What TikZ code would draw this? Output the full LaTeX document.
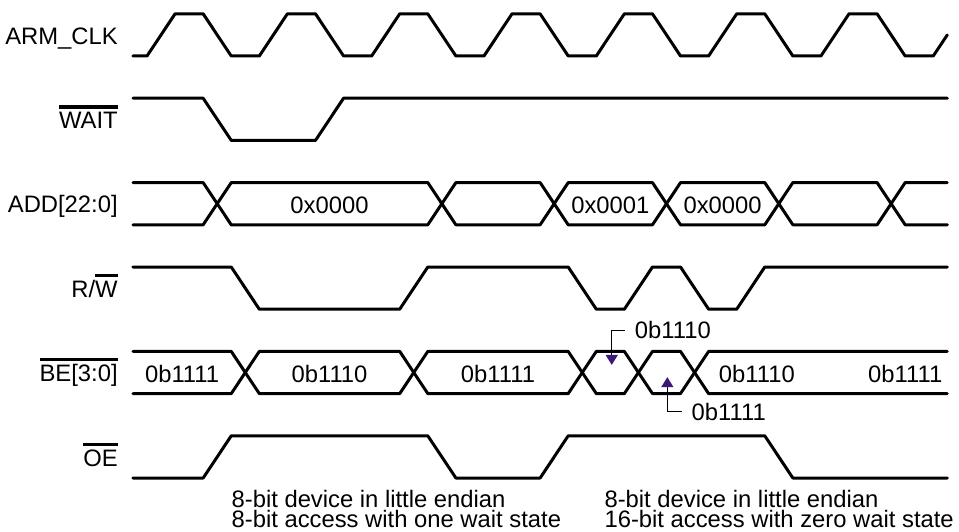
\documentclass[tikz,border=0pt]{standalone}
\usepackage{fontspec}
\setmainfont{Liberation Sans}
\usetikzlibrary{arrows.meta}
\definecolor{tipviolet}{RGB}{60,25,120}
\newsavebox{\ovlbox}
\newcommand{\ovl}[1]{%
  \sbox\ovlbox{#1}%
  \rlap{\rule[\dimexpr\ht\ovlbox+1.8pt\relax]{\wd\ovlbox}{1.6pt}}%
  \usebox\ovlbox}
\newcommand{\wavefont}{\fontsize{11.9}{14}\selectfont}
\tikzset{
  wave/.style={
    line width=1.5pt,
    line cap=round,
    line join=round
  },
  signame/.style={anchor=base east, inner sep=0pt, font=\wavefont},
  busval/.style={anchor=base, inner sep=0pt, font=\wavefont},
  callout/.style={
    line width=0.65pt,
    -{Triangle[width=6pt,length=5pt,color=tipviolet]}
  },
  calloutlabel/.style={anchor=west, inner sep=0pt, outer xsep=5pt, font=\wavefont},
  note/.style={anchor=base west, inner sep=0pt, font=\wavefont}
}
% one bus value between two crossings, #1 = lower level
\newcommand{\busseg}[3]{%
  \draw[wave] (#2-0.5,#1+0.5) -- (#2,#1+1) -- (#3,#1+1) -- (#3+0.5,#1+0.5)
    -- (#3,#1) -- (#2,#1) -- cycle;
}

\begin{document}
\begin{tikzpicture}[x=14.04pt, y=21.1pt]
  \useasboundingbox (-5.235,-1.256) rectangle (28.917,11.327);

  % signal names
  \node[signame] (lbl-clk) at (-1.03,10.28) {ARM\_CLK};
  \node[signame] (lbl-wait) at (-1.03,8.28) {\ovl{WAIT}};
  \node[signame] (lbl-add) at (-1.03,6.28) {ADD[22:0]};
  \node[signame] (lbl-rw) at (-1.03,4.28) {R/\ovl{W}};
  \node[signame] (lbl-be) at (-1.03,2.28) {\ovl{BE[3:0]}};
  \node[signame] (lbl-oe) at (-1.03,0.28) {\ovl{OE}};

  % clock
  \draw[wave] (-0.5,10) -- (0,10)
    \foreach \i in {0,...,6} {
      -- (4*\i+1,11) -- (4*\i+2,11) -- (4*\i+3,10) -- (4*\i+4,10)
    } -- (28.5,10.5);

  % wait
  \draw[wave] (-0.5,9) -- (2,9) -- (3,8) -- (6,8) -- (7,9) -- (28.5,9);

  % address bus
  \draw[wave] (-0.5,7) -- (2,7) -- (2.5,6.5) -- (2,6) -- (-0.5,6);
  \foreach \a/\b in {3/10,11/14,15/18,19/22,23/26} {
    \busseg{6}{\a}{\b}
  }
  \draw[wave] (28.5,7) -- (27,7) -- (26.5,6.5) -- (27,6) -- (28.5,6);
  \node[busval] (add-a) at (6.5,6.27) {0x0000};
  \node[busval] (add-b) at (16.5,6.27) {0x0001};
  \node[busval] (add-c) at (20.5,6.27) {0x0000};

  % read / write
  \draw[wave] (-0.5,5) -- (3,5) -- (4,4) -- (9,4) -- (10,5) -- (15,5) -- (16,4)
    -- (17,4) -- (18,5) -- (19,5) -- (20,4) -- (21,4) -- (22,5) -- (28.5,5);

  % byte enables
  \draw[wave] (-0.5,3) -- (3,3) -- (3.5,2.5) -- (3,2) -- (-0.5,2);
  \foreach \a/\b in {4/9,10/15,16/17,18/19} {
    \busseg{2}{\a}{\b}
  }
  \draw[wave] (28.5,3) -- (20,3) -- (19.5,2.5) -- (20,2) -- (28.5,2);
  \node[busval] (be-a) at (1.25,2.27) {0b1111};
  \node[busval] (be-b) at (6.5,2.27) {0b1110};
  \node[busval] (be-c) at (12.5,2.27) {0b1111};
  \node[busval] (be-d) at (21.72,2.27) {0b1110};
  \node[busval] (be-e) at (27,2.27) {0b1111};

  \node[calloutlabel] (be-up) at (17.02,3.5) {0b1110};
  \coordinate (be-up-tip) at (16.55,2.68);
  \draw[callout] (be-up.west) -| (be-up-tip);
  \node[calloutlabel] (be-dn) at (19.04,1.57) {0b1111};
  \coordinate (be-dn-tip) at (18.53,2.39);
  \draw[callout] (be-dn.west) -| (be-dn-tip);

  % output enable
  \draw[wave] (-0.5,0) -- (2,0) -- (3,1) -- (10,1) -- (11,0) -- (14,0) -- (15,1)
    -- (22,1) -- (23,0) -- (28.5,0);

  % notes
  \node[note] (note-a1) at (3,-0.694) {8-bit device in little endian};
  \node[note] (note-a2) at (3,-1.17) {8-bit access with one wait state};
  \node[note] (note-b1) at (16.28,-0.694) {8-bit device in little endian};
  \node[note] (note-b2) at (16.28,-1.17) {16-bit access with zero wait state};
\end{tikzpicture}
\end{document}
